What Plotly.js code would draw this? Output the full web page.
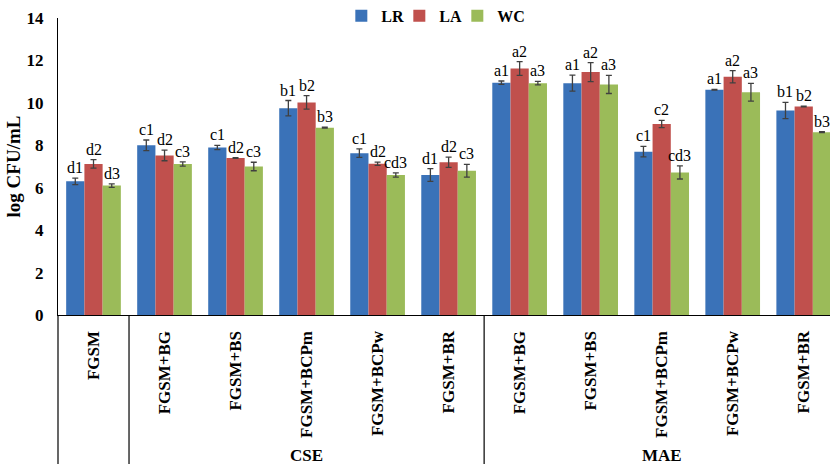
<!DOCTYPE html>
<html><head><meta charset="utf-8">
<script src="https://cdn.plot.ly/plotly-3.0.1.min.js"></script>
<style>html,body{margin:0;padding:0;overflow:hidden;background:#fff}</style>
</head><body><div id="chart" style="width:830px;height:464px"></div>
<script>
const groups = [" ", "CSE", "CSE", "CSE", "CSE", "CSE", "MAE", "MAE", "MAE", "MAE", "MAE"];
const treatments = ["FGSM", "FGSM+BG", "FGSM+BS", "FGSM+BCPm", "FGSM+BCPw", "FGSM+BR",
                    "FGSM+BG", "FGSM+BS", "FGSM+BCPm", "FGSM+BCPw", "FGSM+BR"];
const seriesNames = ["LR", "LA", "WC"];
const LR = [6.3, 8.0, 7.9, 9.75, 7.63, 6.6, 10.95, 10.93, 7.7, 10.62, 9.64];
const LR_err = [0.15, 0.25, 0.1, 0.36, 0.2, 0.3, 0.08, 0.38, 0.25, 0.02, 0.38];
const LA = [7.12, 7.52, 7.4, 10.02, 7.13, 7.2, 11.62, 11.45, 9.0, 11.23, 9.83];
const LA_err = [0.2, 0.25, 0.02, 0.32, 0.08, 0.24, 0.32, 0.45, 0.17, 0.29, 0.02];
const WC = [6.1, 7.12, 7.0, 8.83, 6.6, 6.8, 10.93, 10.87, 6.72, 10.5, 8.62];
const WC_err = [0.08, 0.1, 0.2, 0.02, 0.1, 0.3, 0.08, 0.43, 0.31, 0.42, 0.02];
const LR_sig = ["d1", "c1", "c1", "b1", "c1", "d1", "a1", "a1", "c1", "a1", "b1"];
const LA_sig = ["d2", "d2", "d2", "b2", "d2", "d2", "a2", "a2", "c2", "a2", "b2"];
const WC_sig = ["d3", "c3", "c3", "b3", "cd3", "c3", "a3", "a3", "cd3", "a3", "b3"];

const colors = ["#3A72B8", "#C0504D", "#9BBB59"];
const values = [LR, LA, WC];
const errors = [LR_err, LA_err, WC_err];
const sigs = [LR_sig, LA_sig, WC_sig];

const FONT = "'Liberation Serif', 'Times New Roman', serif";
const idx = treatments.map((_, i) => i);
const bargap = 0.23;
const xRange = [-0.5, 10.37];

const traces = seriesNames.map((name, k) => ({
  type: "bar", name: name, x: idx, y: values[k],
  legendwidth: k === seriesNames.length - 1 ? 32 : 13,
  marker: {color: colors[k], line: {width: 0}},
  error_y: {type: "data", array: errors[k], visible: true, color: "#404040", thickness: 1.3, width: 3}
}));

const annotations = [];
const bw = (1 - bargap) / seriesNames.length;
seriesNames.forEach((_, k) => {
  idx.forEach(i => {
    annotations.push({
      x: i + (k - 1) * bw, y: values[k][i] + errors[k][i], xref: "x", yref: "y",
      text: sigs[k][i], showarrow: false, yanchor: "bottom", yshift: 0,
      font: {family: FONT, size: 16, color: "#000"}
    });
  });
});

// group labels under the axis
const uniqueGroups = [...new Set(groups)];
uniqueGroups.forEach(g => {
  if (!g.trim()) return;
  const members = idx.filter(i => groups[i] === g);
  const center = members.reduce((a, b) => a + b, 0) / members.length;
  annotations.push({
    x: center, y: -0.472, xref: "x", yref: "paper", text: g, showarrow: false,
    yanchor: "middle", font: {family: FONT, size: 17, color: "#000", weight: "bold"}
  });
});

// separators between groups
const shapes = [{type: "line", xref: "paper", yref: "paper", x0: 0, x1: 0, y0: 0, y1: -0.51,
                 line: {color: "#000", width: 1.2}}];
for (let i = 1; i < groups.length; i++) {
  if (groups[i] !== groups[i - 1]) {
    shapes.push({type: "line", xref: "x", yref: "paper", x0: i - 0.5, x1: i - 0.5, y0: 0, y1: -0.51,
                 line: {color: "#000", width: 1.2}});
  }
}

const layout = {
  width: 830, height: 464,
  margin: {l: 58, r: 0, t: 18, b: 149, autoexpand: false},
  paper_bgcolor: "#fff", plot_bgcolor: "#fff",
  barmode: "group", bargap: bargap, bargroupgap: 0,
  showlegend: true,
  legend: {orientation: "h", x: 0.367, xanchor: "left", y: 1.007, yanchor: "middle",
           font: {family: FONT, size: 16, color: "#000", weight: "bold"},
           itemwidth: 30, bgcolor: "rgba(0,0,0,0)"},
  xaxis: {range: xRange, tickvals: idx, ticktext: treatments, tickangle: -90,
          showline: true, linecolor: "#000", linewidth: 1.2, showgrid: false, zeroline: false,
          ticks: "", ticklabelstandoff: 8, automargin: false,
          tickfont: {family: FONT, size: 17, color: "#000", weight: "bold"}},
  yaxis: {range: [0, 14], dtick: 2, showline: true, linecolor: "#000", linewidth: 1.2,
          showgrid: false, zeroline: false, ticks: "", ticklabelstandoff: 10, automargin: false,
          tickfont: {family: FONT, size: 17, color: "#000", weight: "bold"},
          title: {text: "log CFU/mL", standoff: 0, font: {family: FONT, size: 19, color: "#000", weight: "bold"}}},
  annotations: annotations, shapes: shapes
};

Plotly.newPlot("chart", traces, layout, {displayModeBar: false, staticPlot: true});
</script></body></html>
